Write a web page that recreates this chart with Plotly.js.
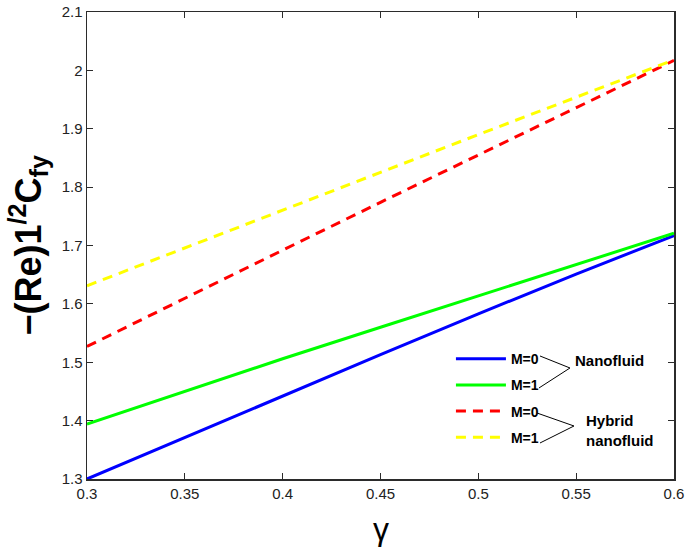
<!DOCTYPE html>
<html>
<head>
<meta charset="utf-8">
<script src="https://cdn.plot.ly/plotly-3.0.1.min.js"></script>
<style>html,body{margin:0;padding:0;background:#fff;}#chart{width:685px;height:552px;}</style>
</head>
<body>
<div id="chart"></div>
<script>
var gamma = [0.3, 0.35, 0.4, 0.45, 0.5, 0.55, 0.6];
var nanoM0 = [1.300, 1.371, 1.443, 1.513, 1.583, 1.651, 1.717];
var nanoM1 = [1.394, 1.450, 1.506, 1.560, 1.614, 1.668, 1.721];
var hybridM0 = [1.527, 1.610, 1.692, 1.774, 1.855, 1.936, 2.017];
var hybridM1 = [1.631, 1.696, 1.761, 1.825, 1.890, 1.954, 2.018];
var seriesNames = ["M=0", "M=1", "M=0", "M=1"];
var xTicks = [0.3, 0.35, 0.4, 0.45, 0.5, 0.55, 0.6];
var xTickText = ["0.3", "0.35", "0.4", "0.45", "0.5", "0.55", "0.6"];
var yTicks = [1.3, 1.4, 1.5, 1.6, 1.7, 1.8, 1.9, 2, 2.1];
var yTickText = ["1.3", "1.4", "1.5", "1.6", "1.7", "1.8", "1.9", "2", "2.1"];

var FONT = "Liberation Sans, Arial, Helvetica, sans-serif";
var axisColor = "#2b2b2b";

var traces = [
  {x: gamma, y: nanoM0, name: seriesNames[0], legendgroup: "a", mode: "lines", line: {color: "#0000ff", width: 3}},
  {x: gamma, y: nanoM1, name: seriesNames[1], legendgroup: "b", mode: "lines", line: {color: "#00ff00", width: 3}},
  {x: gamma, y: hybridM0, name: seriesNames[2], legendgroup: "c", mode: "lines", line: {color: "#ff0000", width: 3, dash: "10px,7px"}},
  {x: gamma, y: hybridM1, name: seriesNames[3], legendgroup: "d", mode: "lines", line: {color: "#ffff00", width: 3, dash: "10px,7px"}}
];

function bracket(x0, y0, x1, y1) {
  return {type: "line", xref: "paper", yref: "paper", x0: x0, y0: y0, x1: x1, y1: y1,
          line: {color: "#000", width: 1}};
}

var layout = {
  width: 685, height: 552,
  margin: {l: 87, r: 11, t: 12, b: 73},
  paper_bgcolor: "#fff", plot_bgcolor: "#fff",
  font: {family: FONT, color: "#222", size: 14},
  showlegend: true,
  legend: {
    x: 0.62, y: 0.291, xanchor: "left", yanchor: "top",
    bgcolor: "rgba(0,0,0,0)", borderwidth: 0,
    font: {family: FONT, size: 14, color: "#000", weight: "bold"},
    tracegroupgap: 5, itemwidth: 50
  },
  xaxis: {
    range: [0.3, 0.6], tickvals: xTicks, ticktext: xTickText,
    ticks: "inside", ticklen: 6, tickcolor: axisColor, tickwidth: 1,
    showline: true, linecolor: axisColor, linewidth: 1.5, mirror: "ticks",
    showgrid: false, zeroline: false,
    tickfont: {family: FONT, size: 15, color: "#222"}
  },
  yaxis: {
    range: [1.3, 2.1], tickvals: yTicks, ticktext: yTickText,
    ticks: "inside", ticklen: 6, tickcolor: axisColor, tickwidth: 1,
    showline: true, linecolor: axisColor, linewidth: 1.5, mirror: "ticks",
    showgrid: false, zeroline: false,
    tickfont: {family: FONT, size: 15, color: "#222"}
  },
  annotations: [
    {text: "−(Re)1<sup>/2</sup>C<sub>fy</sub>", xref: "paper", yref: "paper", x: -0.1005, y: 0.5,
     xanchor: "center", yanchor: "middle", textangle: -90, showarrow: false,
     font: {family: FONT, size: 36, color: "#000", weight: "bold"}},
    {text: "γ", xref: "paper", yref: "paper", x: 0.5, y: -0.108,
     xanchor: "center", yanchor: "middle", showarrow: false,
     font: {family: FONT, size: 32, color: "#000"}},
    {text: "Nanofluid", xref: "paper", yref: "paper", x: 0.828, y: 0.2548,
     xanchor: "left", yanchor: "middle", showarrow: false,
     font: {family: FONT, size: 15, color: "#000", weight: "bold"}},
    {text: "Hybrid<br>nanofluid", xref: "paper", yref: "paper", x: 0.8467, y: 0.1028,
     xanchor: "left", yanchor: "middle", align: "left", showarrow: false,
     font: {family: FONT, size: 15, color: "#000", weight: "bold"}}
  ],
  shapes: [
    bracket(0.7717, 0.2634, 0.8228, 0.2377),
    bracket(0.8228, 0.2377, 0.7700, 0.1949),
    bracket(0.7666, 0.1413, 0.8296, 0.1135),
    bracket(0.8296, 0.1135, 0.7717, 0.0771)
  ]
};

Plotly.newPlot("chart", traces, layout, {staticPlot: true, displayModeBar: false});
</script>
</body>
</html>
